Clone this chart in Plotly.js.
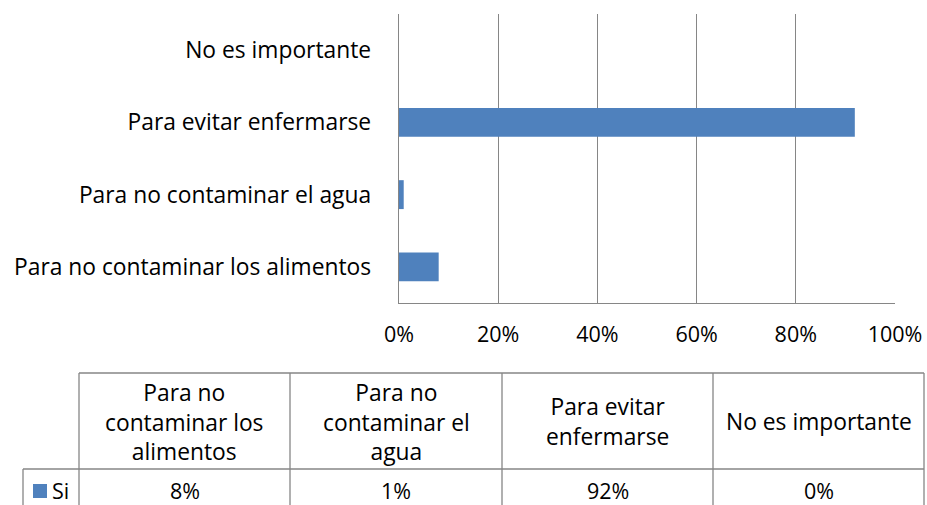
<!DOCTYPE html>
<html><head><meta charset="utf-8">
<script src="https://cdn.plot.ly/plotly-3.0.1.min.js"></script>
<style>html,body{margin:0;padding:0;background:#fff}</style>
</head><body>
<div id="chart" style="width:927px;height:505px"></div>
<script>
const categories = ["Para no contaminar los alimentos", "Para no contaminar el agua", "Para evitar enfermarse", "No es importante"];
const seriesName = "Si";
const values = [0.08, 0.0095, 0.919, 0.0];
const tableValues = ["8%", "1%", "92%", "0%"];
const xTickVals = [0, 0.2, 0.4, 0.6, 0.8, 1.0];

const W = 927, H = 505;
const L = 399, R = 895, T = 14, B = 303;
const FONT = "'Open Sans', sans-serif";
const FS = 22.8;
const FN = 21.5;
const GRID = "#868686";
const BAR = "#4F81BD";

function px(x){ return (x - L) / (R - L); }
function py(y){ return (B - y) / (B - T); }

function wrap(s, maxc){
  const words = s.split(" "); const lines = []; let cur = "";
  for (const w of words){
    if (cur === "") cur = w;
    else if ((cur + " " + w).length <= maxc) cur += " " + w;
    else { lines.push(cur); cur = w; }
  }
  if (cur) lines.push(cur);
  return lines.join("<br>");
}

const shapes = [];
const annotations = [];
function line(x0,y0,x1,y1){
  shapes.push({type:"line", xref:"paper", yref:"paper", x0:px(x0), y0:py(y0), x1:px(x1), y1:py(y1), line:{color:GRID, width:1.3}});
}
// table geometry
const tTop = 373, tMid = 469, tBot = 510;
const colX = [79, 290, 502, 713, 924];
const keyX = 23;
line(colX[0], tTop, colX[4], tTop);
line(keyX, tMid, colX[4], tMid);
for (let i = 0; i < colX.length; i++) line(colX[i], tTop, colX[i], tBot);
line(keyX, tMid, keyX, tBot);

for (let i = 0; i < categories.length; i++){
  const cx = (colX[i] + colX[i+1]) / 2;
  annotations.push({xref:"paper", yref:"paper", x:px(cx), y:py((tTop+tMid)/2 + 1), xanchor:"center", yanchor:"middle",
    text: wrap(categories[i], 16), showarrow:false, align:"center", font:{family:FONT, size:FS, color:"#000"}});
  annotations.push({xref:"paper", yref:"paper", x:px(cx), y:py(490), xanchor:"center", yanchor:"middle",
    text: tableValues[i], showarrow:false, font:{family:FONT, size:FN, color:"#000"}});
}
// legend key
shapes.push({type:"rect", xref:"paper", yref:"paper", x0:px(33), x1:px(47), y0:py(484), y1:py(498), fillcolor:BAR, line:{width:0}});
annotations.push({xref:"paper", yref:"paper", x:px(50), y:py(490), xanchor:"left", yanchor:"middle",
  text: seriesName, showarrow:false, font:{family:FONT, size:FN, color:"#000"}});

const trace = {
  type:"bar", orientation:"h", y:categories, x:values, name:seriesName,
  marker:{color:BAR}, hoverinfo:"none"
};

const layout = {
  width:W, height:H, margin:{l:L, r:W-R, t:T, b:H-B, pad:0},
  paper_bgcolor:"#fff", plot_bgcolor:"#fff", showlegend:false, bargap:0.6,
  font:{family:FONT, size:FS, color:"#000"},
  xaxis:{range:[0,1], tickvals:xTickVals, tickformat:".0%", showgrid:true, gridcolor:GRID, gridwidth:1.3,
    showline:true, linecolor:GRID, linewidth:1.3, zeroline:false, ticks:"", ticklabelstandoff:12, fixedrange:true,
    tickfont:{family:FONT, size:FN, color:"#000"}},
  yaxis:{type:"category", showgrid:false, showline:true, linecolor:GRID, linewidth:1.3, zeroline:false, ticks:"",
    ticklabelstandoff:22, fixedrange:true, tickfont:{family:FONT, size:FS, color:"#000"}},
  shapes:shapes, annotations:annotations
};
Plotly.newPlot("chart", [trace], layout, {staticPlot:true, displayModeBar:false});
</script>
</body></html>
